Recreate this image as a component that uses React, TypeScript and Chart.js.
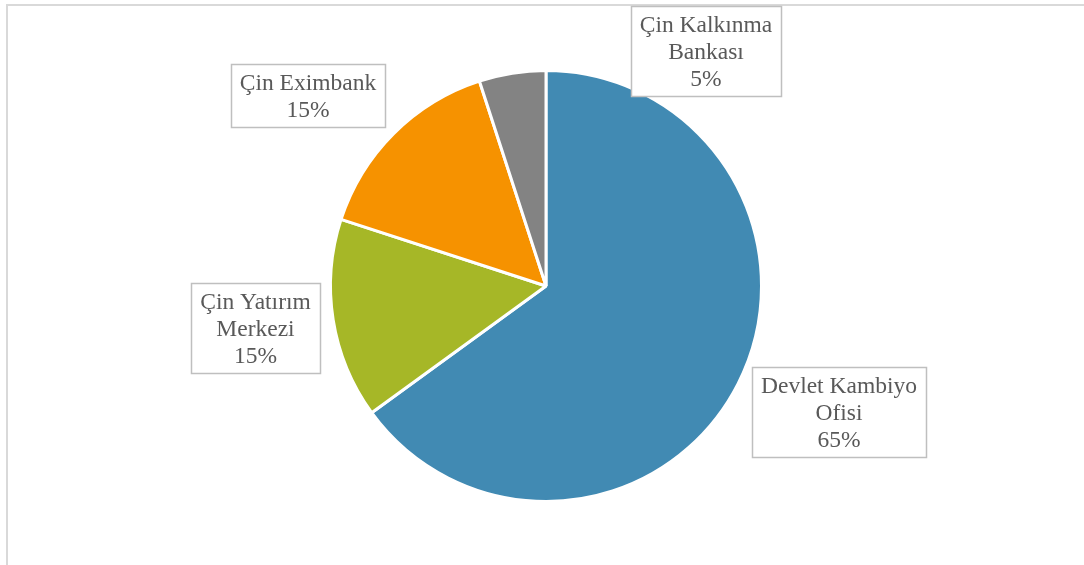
import React, { useEffect, useRef } from "react";
import { Chart, registerables } from "chart.js";

Chart.register(...registerables);

const categories: string[][] = [
  ["Devlet Kambiyo", "Ofisi"],
  ["Çin Yatırım", "Merkezi"],
  ["Çin Eximbank"],
  ["Çin Kalkınma", "Bankası"],
];
const values: number[] = [65, 15, 15, 5];
const colors: string[] = ["#418AB3", "#A6B727", "#F69200", "#838383"];
// label box center offsets relative to pie center (layout only)
const labelOffsets: [number, number][] = [
  [293, 125.5],
  [-290.5, 41.5],
  [-238, -191],
  [160, -235.5],
];

const FONT = '23.5px "Liberation Serif", "Times New Roman", serif';
const LINE_H = 27;

const labelPlugin = {
  id: "boxLabels",
  afterDraw(chart: any) {
    const ctx = chart.ctx as CanvasRenderingContext2D;
    const meta = chart.getDatasetMeta(0);
    const total = values.reduce((a, b) => a + b, 0);
    ctx.save();
    ctx.font = FONT;
    ctx.textAlign = "center";
    ctx.textBaseline = "middle";
    meta.data.forEach((arc: any, i: number) => {
      const cx = arc.x + labelOffsets[i][0];
      const cy = arc.y + labelOffsets[i][1];
      const lines = [...categories[i], Math.round((values[i] / total) * 100) + "%"];
      const w = Math.max(...lines.map((l) => ctx.measureText(l).width)) + 18;
      const h = lines.length * LINE_H + 9;
      const x0 = Math.round(cx - w / 2) + 0.5;
      const y0 = Math.round(cy - h / 2) + 0.5;
      ctx.fillStyle = "#FFFFFF";
      ctx.fillRect(x0, y0, Math.round(w), Math.round(h));
      ctx.strokeStyle = "#BFBFBF";
      ctx.lineWidth = 1.5;
      ctx.strokeRect(x0, y0, Math.round(w), Math.round(h));
      ctx.fillStyle = "#595959";
      lines.forEach((l, j) => {
        ctx.fillText(l, cx, cy - ((lines.length - 1) * LINE_H) / 2 + j * LINE_H + 2);
      });
    });
    ctx.restore();
  },
};

export default function App() {
  const ref = useRef<HTMLCanvasElement | null>(null);
  useEffect(() => {
    document.body.style.margin = "0";
    const chart = new Chart(ref.current as HTMLCanvasElement, {
      type: "pie",
      data: {
        labels: categories.map((c) => c.join(" ")),
        datasets: [
          {
            data: values,
            backgroundColor: colors,
            borderColor: "#FFFFFF",
            borderWidth: 3,
          },
        ],
      },
      options: {
        animation: false,
        responsive: false,
        maintainAspectRatio: false,
        layout: { padding: { top: 69, bottom: 62, left: 8, right: 0 } },
        plugins: { legend: { display: false }, tooltip: { enabled: false } },
      },
      plugins: [labelPlugin],
    });
    return () => chart.destroy();
  }, []);
  return (
    <div style={{ position: "relative", width: 1084, height: 565, overflow: "hidden", background: "#fff" }}>
      <div
        style={{
          position: "absolute",
          left: 6,
          top: 4,
          width: 1200,
          height: 700,
          border: "2px solid #D9D9D9",
          boxSizing: "border-box",
        }}
      />
      <canvas ref={ref} width={1084} height={565} style={{ position: "absolute", left: 0, top: 0 }} />
    </div>
  );
}
